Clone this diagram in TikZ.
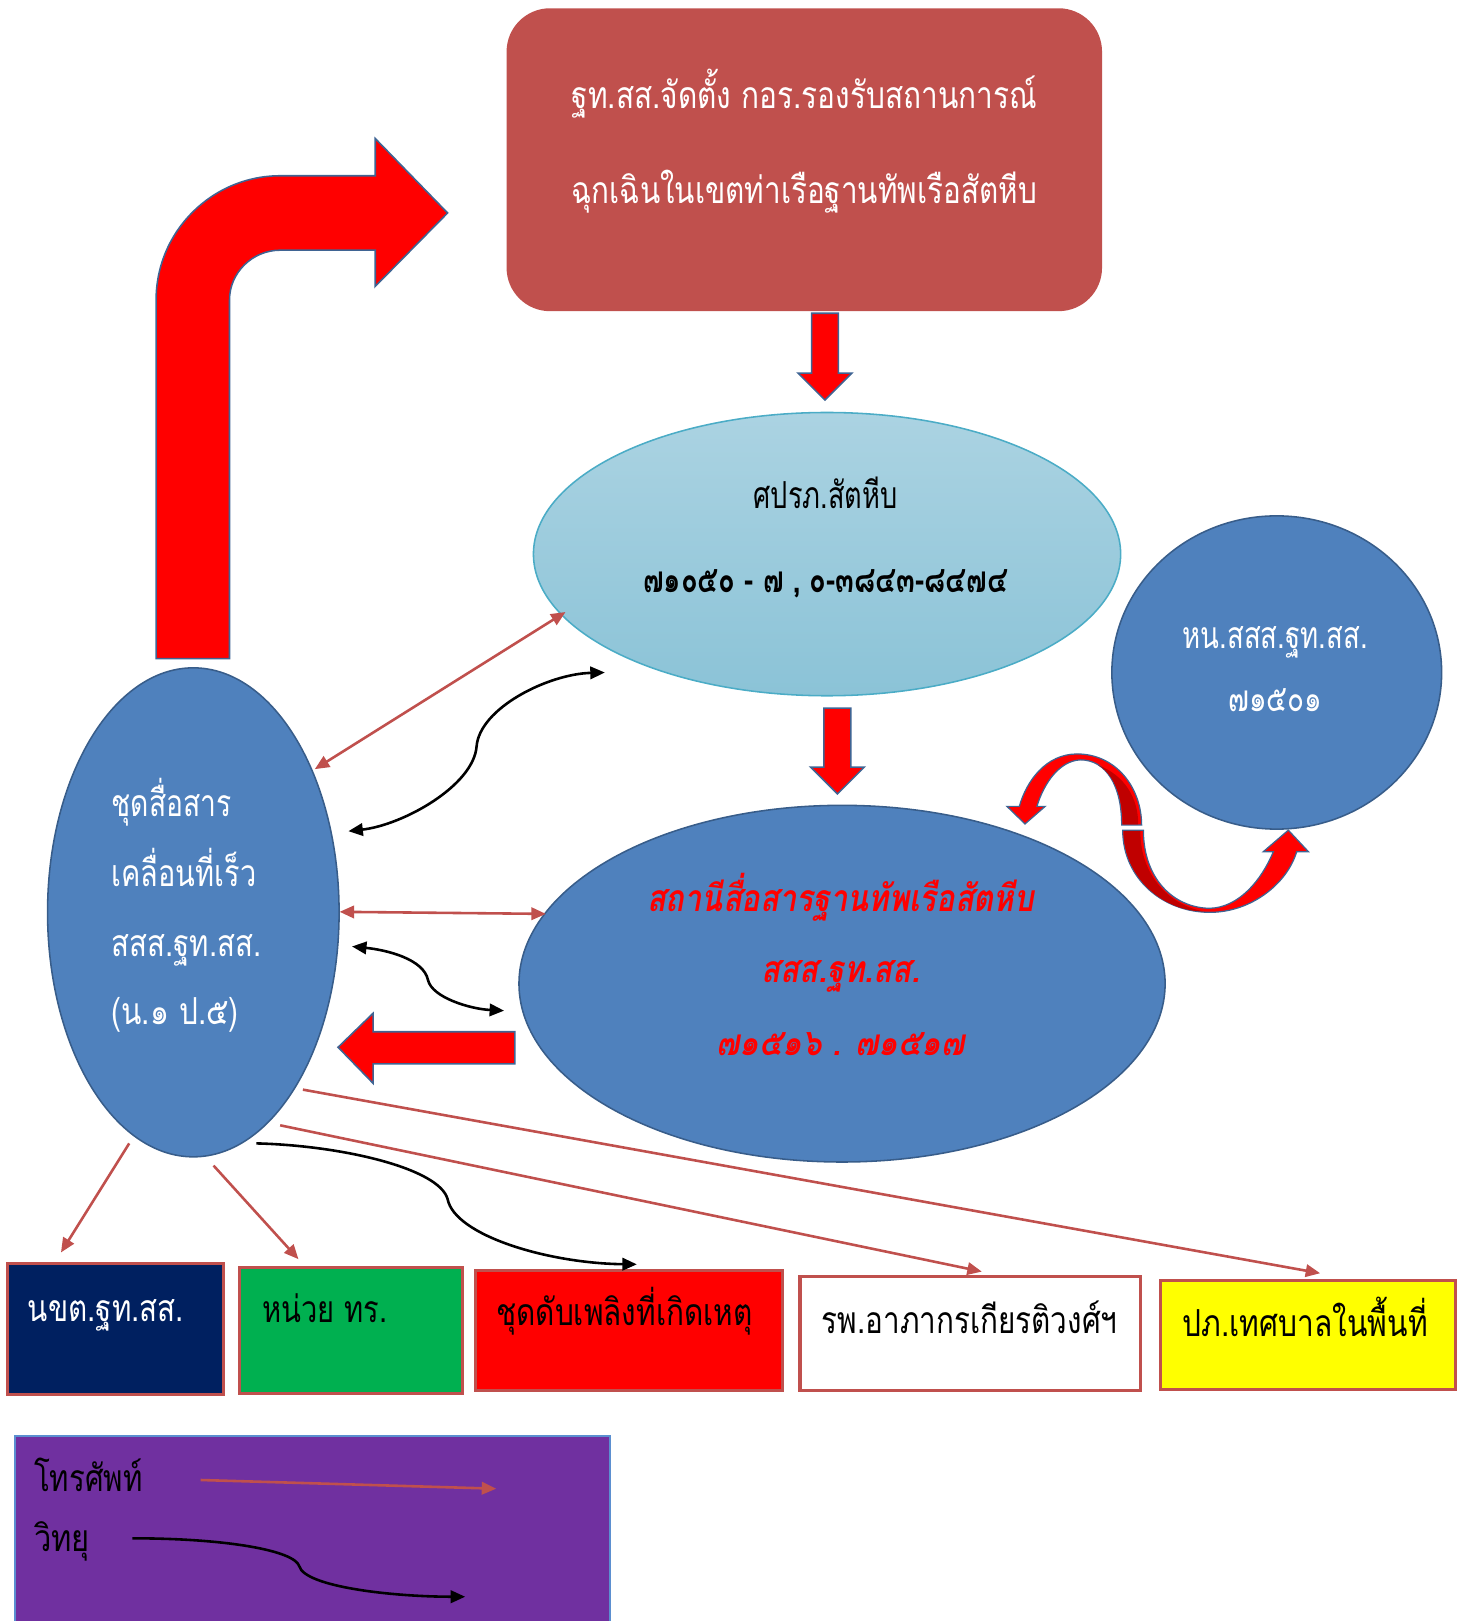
\documentclass[tikz,border=0pt]{standalone}
\usepackage{fontspec}
\setmainfont[Script=Thai]{Loma}
\usetikzlibrary{shapes.geometric,arrows.meta}
\definecolor{topred}{HTML}{C0504D}
\definecolor{telred}{HTML}{C0504D}
\definecolor{lbtop}{HTML}{ABD3E2}
\definecolor{lbbot}{HTML}{8BC3D7}
\definecolor{lbedge}{HTML}{4BACC6}
\definecolor{bluefill}{HTML}{4F81BD}
\definecolor{blueedge}{HTML}{385D8A}
\definecolor{arrowedge}{HTML}{3F6493}
\definecolor{darkred}{HTML}{C00000}
\definecolor{navy}{HTML}{002060}
\definecolor{okgreen}{HTML}{00B050}
\definecolor{yel}{HTML}{FFFF00}
\definecolor{purp}{HTML}{7030A0}
\definecolor{legedge}{HTML}{5B8FD0}
\newcommand\tw[2]{\resizebox{#1pt}{\height}{#2}}
\begin{document}
\begin{tikzpicture}[x=1pt,y=-1pt,
  every node/.style={inner sep=0pt,outer sep=0pt},
  txt/.style={font=\fontsize{36}{40}\selectfont},
  blob/.style={ellipse,fill=bluefill,draw=blueedge,line width=1.5pt},
  fatarrow/.style={fill=red,draw=arrowedge,line width=1.5pt,line join=miter},
  ribbon/.style={fill=red,draw=arrowedge,line width=1.2pt,line join=miter},
  tel/.style={draw=telred,line width=2.5pt,-{Triangle[length=14pt,width=12pt]}},
  telboth/.style={draw=telred,line width=2.5pt,{Triangle[length=14pt,width=12pt]}-{Triangle[length=14pt,width=12pt]}},
  radio/.style={draw=black,line width=2.5pt,-{Triangle[length=14pt,width=12pt]}},
  radioboth/.style={draw=black,line width=2.5pt,{Triangle[length=14pt,width=12pt]}-{Triangle[length=14pt,width=12pt]}},
  unit/.style={rectangle,draw=telred,line width=3pt}]
\useasboundingbox (0,0) rectangle (1419,1568);

% top box
\node[rectangle,rounded corners=42pt,fill=topred,minimum width=576pt,minimum height=293pt] (gov) at (778,154.5) {};
\node[txt,white,anchor=base] (gov1) at (778,104.6) {\tw{450}{ฐท.สส.จัดตั้ง กอร.รองรับสถานการณ์}};
\node[txt,white,anchor=base] (gov2) at (778,196.7) {\tw{450}{ฉุกเฉินในเขตท่าเรือฐานทัพเรือสัตหีบ}};

% down arrow 1
\draw[fatarrow] (785,303) -- (811,303) -- (811,361) -- (824,361) -- (798,387) -- (772,361) -- (785,361) -- cycle;

% light blue ellipse
\node[ellipse,minimum width=568pt,minimum height=274pt,top color=lbtop,bottom color=lbbot,draw=lbedge,line width=1.5pt] (spr) at (800,536) {};
\node[txt,black,anchor=base] (spr1) at (798.5,491.6) {\tw{139}{ศปรภ.สัตหีบ}};
\node[txt,black,anchor=base] (spr2) at (798.5,573) {\tw{353}{\bfseries ๗๑๐๕๐ - ๗ , ๐-๓๘๔๓-๘๔๗๔}};

% down arrow 2
\draw[fatarrow] (797,685) -- (823,685) -- (823,742) -- (836,742) -- (810,768) -- (784,742) -- (797,742) -- cycle;

% station ellipse
\node[blob,minimum width=625pt,minimum height=345pt] (stn) at (814.5,951.5) {};
\node[txt,red,anchor=base] (stn1) at (813,882) {\tw{374}{\bfseries\itshape สถานีสื่อสารฐานทัพเรือสัตหีบ}};
\node[txt,red,anchor=base] (stn2) at (813.5,950) {\tw{153}{\bfseries\itshape สสส.ฐท.สส.}};
\node[txt,red,anchor=base] (stn3) at (813,1020.5) {\tw{240}{\bfseries\itshape ๗๑๕๑๖ . ๗๑๕๑๗}};

% chief circle
\node[blob,minimum width=319pt,minimum height=303pt] (chief) at (1235,650.5) {};
\node[txt,white,anchor=base] (chief1) at (1233.5,627) {\tw{179}{หน.สสส.ฐท.สส.}};
\node[txt,white,anchor=base] (chief2) at (1233.5,688) {\tw{91}{๗๑๕๐๑}};

% mobile unit ellipse
\node[blob,minimum width=282pt,minimum height=473pt] (mob) at (187,882.5) {};
\node[txt,white,anchor=base west] (mob1) at (108,790) {\tw{116}{ชุดสื่อสาร}};
\node[txt,white,anchor=base west] (mob2) at (108,857.7) {\tw{140}{เคลื่อนที่เร็ว}};
\node[txt,white,anchor=base west] (mob3) at (108,924.8) {\tw{145}{สสส.ฐท.สส.}};
\node[txt,white,anchor=base west] (mob4) at (108,991) {\tw{123}{(น.๑ ป.๕)}};

% big bent arrow
\draw[fatarrow] (151,637) -- (151,290) .. controls (151,224) and (205,170) .. (271,170)
  -- (363,170) -- (363,134) -- (433,206) -- (363,277) -- (363,242) -- (271,242)
  .. controls (244,242) and (222,264) .. (222,290) -- (222,637) -- cycle;

% left arrow
\draw[fatarrow] (498,998) -- (361,998) -- (361,980) -- (327,1013) -- (361,1048) -- (361,1029) -- (498,1029) -- cycle;

% upper ribbon arrow
\draw[ribbon] (1104.3,798) .. controls (1104,760) and (1078,729) .. (1041.5,729.3)
  .. controls (1012,729.5) and (993,755) .. (986,780) -- (974,780) -- (991.5,797) -- (1011,780) -- (1003,780)
  .. controls (1010,757) and (1025,736) .. (1045,735) .. controls (1070,735) and (1085,760) .. (1085,798) -- cycle;
\fill[darkred] (1086,797.3) .. controls (1086,768) and (1076,748) .. (1062,740) .. controls (1088,750) and (1101,772) .. (1101,797.3) -- cycle;
% lower ribbon arrow
\draw[ribbon] (1086,803) .. controls (1086,850) and (1125,882.5) .. (1170.4,882.5)
  .. controls (1210,882.5) and (1245,855) .. (1254.3,823.8) -- (1265.6,823.8) -- (1246.2,803) -- (1222,823.8) -- (1231.7,823.8)
  .. controls (1220,852) and (1198,878) .. (1170,878.6) .. controls (1135,878) and (1106,850) .. (1106,803) -- cycle;
\fill[darkred] (1086.8,803.7) .. controls (1086.8,848) and (1124,881.7) .. (1165,881.7) .. controls (1132,876) and (1103,848) .. (1103,803.7) -- cycle;

% bottom units
\node[unit,fill=navy,minimum width=209pt,minimum height=127pt] (u1) at (112,1285.5) {};
\node[txt,white,anchor=base west] (u1t) at (27,1278.5) {\tw{151}{นขต.ฐท.สส.}};
\node[unit,fill=okgreen,minimum width=215pt,minimum height=122pt] (u2) at (339.5,1287) {};
\node[txt,black,anchor=base west] (u2t) at (254,1279.5) {\tw{121}{หน่วย ทร.}};
\node[unit,fill=red,minimum width=297pt,minimum height=116pt] (u3) at (608.8,1287) {};
\node[txt,black,anchor=base west] (u3t) at (480,1281.7) {\tw{248}{ชุดดับเพลิงที่เกิดเหตุ}};
\node[unit,fill=white,minimum width=329pt,minimum height=110pt] (u4) at (938.3,1290) {};
\node[txt,black,anchor=base west] (u4t) at (795,1289.6) {\tw{286}{รพ.อาภากรเกียรติวงศ์ฯ}};
\node[unit,fill=yel,minimum width=285pt,minimum height=106pt] (u5) at (1265.3,1291.3) {};
\node[txt,black,anchor=base west] (u5t) at (1144,1293) {\tw{237}{ปภ.เทศบาลในพื้นที่}};

% connector end points
\coordinate (pS) at (547,592);
\coordinate (pL) at (304.5,744);
\coordinate (hL) at (328.5,882);
\coordinate (hB) at (528,884);
\coordinate (l1s) at (125,1106);
\coordinate (l1e) at (59,1211.5);
\coordinate (l2s) at (206.6,1127.5);
\coordinate (l2e) at (288.7,1218);
\coordinate (l4s) at (271,1088.5);
\coordinate (l4e) at (949.7,1230);
\coordinate (l5s) at (293,1054);
\coordinate (l5e) at (1277,1231.6);
\coordinate (cA1) at (337,804);
\coordinate (cA2) at (585,650.5);
\coordinate (cB1) at (340.5,915.5);
\coordinate (cB2) at (487.6,977.6);
\coordinate (cC1) at (248,1106);
\coordinate (cC2) at (616,1223);

% telephone links
\draw[telboth] (pL) -- (pS);
\draw[telboth] (hL) -- (hB);
\draw[tel] (l1s) -- (l1e);
\draw[tel] (l2s) -- (l2e);
\draw[tel] (l4s) -- (l4e);
\draw[tel] (l5s) -- (l5e);

% radio links
\draw[radioboth] (cA1) .. controls (390,798) and (458,760) .. (461,722) .. controls (464,685) and (530,652) .. (cA2);
\draw[radioboth] (cB1) .. controls (375,919) and (410,928) .. (414,948) .. controls (418,965) and (455,976) .. (cB2);
\draw[radio] (cC1) .. controls (330,1108) and (425,1130) .. (433,1160) .. controls (440,1195) and (530,1222) .. (cC2);

% legend
\begin{scope}
\clip (0,0) rectangle (1419,1568);
\node[rectangle,fill=purp,draw=legedge,line width=2pt,minimum width=575pt,minimum height=200pt,anchor=north west] (legend) at (14.7,1389) {};
\end{scope}
\node[txt,black,anchor=base west] (leg1) at (33,1443) {\tw{105}{โทรศัพท์}};
\node[txt,black,anchor=base west] (leg2) at (33,1501) {\tw{54}{วิทยุ}};
\coordinate (lt1) at (194,1431.6);
\coordinate (lt2) at (480,1440);
\coordinate (lr1) at (128,1488);
\coordinate (lr2) at (450,1544.5);
\draw[tel] (lt1) -- (lt2);
\draw[radio] (lr1) .. controls (220,1488) and (285,1500) .. (289.5,1515) .. controls (295,1535) and (380,1544.5) .. (lr2);
\end{tikzpicture}
\end{document}
